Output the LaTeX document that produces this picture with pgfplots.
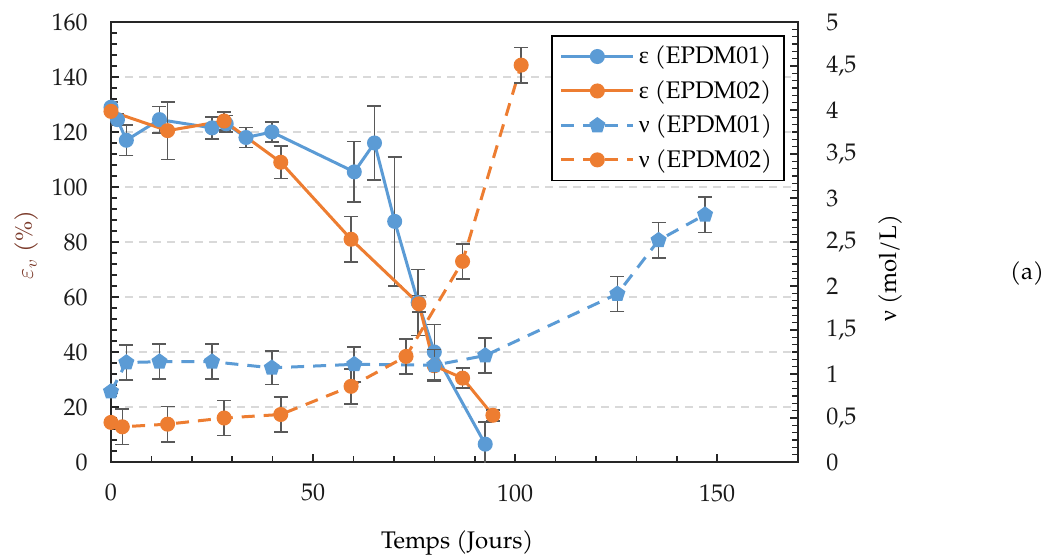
\documentclass[border=0pt]{standalone}
\usepackage{fontspec}
\setmainfont{TeX Gyre Pagella}
\newfontfamily\grk{Liberation Serif}
\usepackage{pgfplots}
\pgfplotsset{compat=1.18}
\definecolor{cblue}{HTML}{5B9BD5}
\definecolor{corange}{HTML}{ED7D31}
\definecolor{errc}{HTML}{595959}
\definecolor{gridc}{HTML}{D9D9D9}
\definecolor{labred}{HTML}{7B3A2A}
\definecolor{tickc}{HTML}{1A1A1A}
\pgfplotsset{
  common/.style={
    scale only axis, width=343.5pt, height=220pt,
    xmin=0, xmax=170,
    /pgf/number format/assume math mode=true,
    tick align=inside,
    axis line style={line width=1pt, color=black!85},
    major tick length=4pt, minor tick length=3pt,
    every tick/.style={line width=0.8pt, color=black!85},
    tick label style={color=tickc},
    legend image code/.code={\draw[mark repeat=2,mark phase=2,##1] plot coordinates {(0pt,0pt) (18pt,0pt) (36pt,0pt)};},
  },
  errs/.style={error bars/.cd, y dir=both, y explicit,
    error bar style={errc, line width=0.8pt, solid},
    error mark options={errc, line width=0.8pt, mark size=3.5pt, solid, rotate=90}},
}
\begin{document}
\fontsize{12}{14}\selectfont
\begin{tikzpicture}
\useasboundingbox (-55.5pt,-48pt) rectangle (470.5pt,231pt);
\begin{axis}[common, name=ax,
  ymin=0, ymax=160, ytick={0,20,...,160}, minor y tick num=4,
  xtick={0,50,100,150}, minor x tick num=4,
  xtick pos=lower, ytick pos=left,
  ymajorgrids, grid style={gridc, dash pattern=on 4pt off 3pt, line width=0.8pt},
  yticklabel style={xshift=-7.5pt},
  xticklabel style={yshift=-7pt},
  xlabel={Temps (Jours)},
  xlabel style={at={(axis description cs:0.504,-0.184)}, anchor=center},
  ylabel={$\varepsilon_v$ (\%)},
  ylabel style={at={(axis description cs:-0.1223,0.4932)}, anchor=center, color=labred},
]
\addplot[cblue, line width=1.5pt, mark=*, mark size=3pt, errs] coordinates {
  (0,129) +- (0,2)
  (1.6,124.5) +- (0,2)
  (3.8,117) +- (0,5.5)
  (12,124.5) +- (0,4.8)
  (25,121.5) +- (0,4)
  (28.5,123) +- (0,3)
  (33.4,118) +- (0,3.6)
  (39.8,120) +- (0,3.6)
  (60.2,105.5) +- (0,11)
  (65.2,116) +- (0,13.5)
  (70.2,87.5) +- (0,23.5)
  (76,58) +- (0,12)
  (80,40) +- (0,10)
  (92.6,6.5) +- (0,8)
};
\addplot[corange, line width=1.5pt, mark=*, mark size=3pt, errs] coordinates {
  (0,127.5) +- (0,2)
  (14,120.5) +- (0,10.5)
  (28,124) +- (0,3.3)
  (42,109) +- (0,5.9)
  (59.4,81) +- (0,8.3)
  (76.2,57.5) +- (0,3)
  (80,35) +- (0,5)
  (87,30.5) +- (0,3.6)
  (94.5,17) +- (0,2)
};
\end{axis}
\begin{axis}[common,
  ymin=0, ymax=5, ytick={0,0.5,...,5}, minor y tick num=5,
  axis y line*=right, axis x line=none,
  yticklabel style={xshift=10pt, /pgf/number format/.cd, use comma, fixed, precision=1},
  ylabel={{\grk ν} (mol/L)},
  ylabel style={at={(axis description cs:1.134,0.441)}, anchor=center},
  legend style={at={(axis description cs:0.6405,0.9705)}, anchor=north west,
    draw=black, line width=0.8pt, inner xsep=4pt, inner ysep=3pt,
    row sep=2.5pt, /tikz/every even column/.append style={column sep=2pt}},
  legend cell align=left,
]
\addlegendimage{cblue, line width=1.5pt, mark=*, mark size=3pt}
\addlegendentry{{\grk ε} (EPDM01)}
\addlegendimage{corange, line width=1.5pt, mark=*, mark size=3pt}
\addlegendentry{{\grk ε} (EPDM02)}
\addplot[cblue, line width=1.5pt, dash pattern=on 6.5pt off 4.5pt, mark=pentagon*, mark size=3.3pt, mark options={solid}, errs] coordinates {
  (0,0.80) +- (0,0.02)
  (3.8,1.13) +- (0,0.2)
  (12,1.14) +- (0,0.2)
  (25,1.14) +- (0,0.2)
  (39.8,1.07) +- (0,0.19)
  (60.2,1.11) +- (0,0.2)
  (80,1.10) +- (0,0.18)
  (92.6,1.21) +- (0,0.2)
  (125.3,1.91) +- (0,0.2)
  (135.5,2.52) +- (0,0.2)
  (147,2.81) +- (0,0.2)
};
\addlegendentry{{\grk ν} (EPDM01)}
\addplot[corange, line width=1.5pt, dash pattern=on 6.5pt off 4.5pt, mark=*, mark size=3pt, mark options={solid}, errs] coordinates {
  (0,0.45) +- (0,0.02)
  (2.8,0.40) +- (0,0.2)
  (14,0.43) +- (0,0.2)
  (28,0.50) +- (0,0.2)
  (42,0.54) +- (0,0.2)
  (59.4,0.86) +- (0,0.2)
  (73,1.20) +- (0,0.2)
  (87,2.28) +- (0,0.2)
  (101.5,4.51) +- (0,0.2)
};
\addlegendentry{{\grk ν} (EPDM02)}
\end{axis}
\node at (458pt,94.5pt) {(a)};
\end{tikzpicture}
\end{document}
